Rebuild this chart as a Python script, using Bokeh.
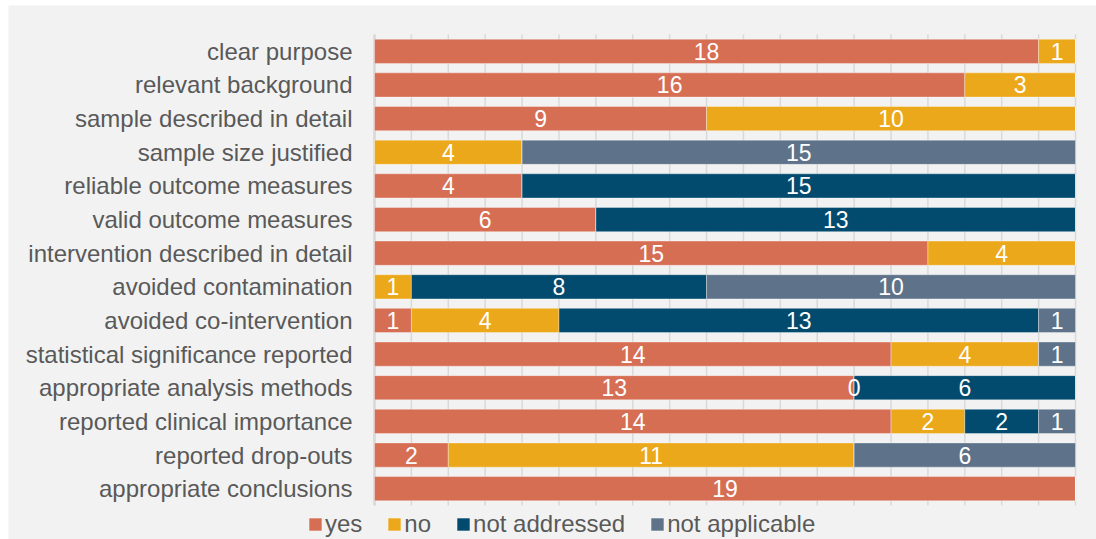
import numpy as np
from bokeh.plotting import figure
from bokeh.models import ColumnDataSource, Legend, LegendItem, Range1d
from bokeh.core.properties import value
from bokeh.embed import file_html
from bokeh.resources import INLINE

categories = [
    "clear purpose",
    "relevant background",
    "sample described in detail",
    "sample size justified",
    "reliable outcome measures",
    "valid outcome measures",
    "intervention described in detail",
    "avoided contamination",
    "avoided co-intervention",
    "statistical significance reported",
    "appropriate analysis methods",
    "reported clinical importance",
    "reported drop-outs",
    "appropriate conclusions",
]
yes = [18, 16, 9, None, 4, 6, 15, None, 1, 14, 13, 14, 2, 19]
no = [1, 3, 10, 4, None, None, 4, 1, 4, 4, 0, 2, 11, None]
not_addressed = [None, None, None, None, 15, 13, None, 8, 13, None, 6, 2, None, None]
not_applicable = [None, None, None, 15, None, None, None, 10, 1, 1, None, 1, 6, None]
grid_ticks = list(range(0, 20))

series_names = ["yes", "no", "not addressed", "not applicable"]
series_values = [yes, no, not_addressed, not_applicable]
colors = ["#D66E54", "#ECA81B", "#024B6F", "#5E738A"]

FONT = "Liberation Sans"
BG = "#F2F2F2"
GRID = "#D9D9D9"

W, H = 1088, 534
# layout in pixels (relative to the figure)
plot_left, plot_right = 366, 1067
plot_top, plot_bottom = 29, 500
n = len(categories)
ux = (plot_right - plot_left) / 19.0
uy = (plot_bottom - plot_top) / n

x_range = Range1d(-plot_left / ux, 19 + (W - plot_right) / ux)
y_range = Range1d(n - 0.5 + (H - plot_bottom) / uy, -0.5 - plot_top / uy)

p = figure(
    width=W, height=H, x_range=x_range, y_range=y_range,
    x_axis_type=None, y_axis_type=None,
    output_backend="svg", toolbar_location=None,
    min_border_left=0, min_border_right=0, min_border_top=0, min_border_bottom=0,
    margin=(5, 0, 0, 8),
)
p.background_fill_color = BG
p.border_fill_color = BG
p.outline_line_color = None
p.xgrid.grid_line_color = None
p.ygrid.grid_line_color = None

ypos = np.arange(n)

# vertical gridlines + axis line
p.segment(x0=grid_ticks, x1=grid_ticks, y0=[-0.5] * len(grid_ticks), y1=[n - 0.5] * len(grid_ticks),
          line_color=GRID, line_width=1.5)
p.segment(x0=[0], x1=[0], y0=[-0.5], y1=[n - 0.5], line_color=GRID, line_width=2.5)

left = np.zeros(n)
renderers = []
lab_x, lab_y, lab_t = [], [], []
for name, vals, col in zip(series_names, series_values, colors):
    v = np.array([0 if x is None else x for x in vals], dtype=float)
    right = left + v
    src = ColumnDataSource(dict(y=ypos, left=left.copy(), right=right.copy()))
    r = p.hbar(y="y", left="left", right="right", height=0.72, source=src,
               fill_color=col, line_color="white", line_alpha=0.35, line_width=1)
    renderers.append(r)
    for i, x in enumerate(vals):
        if x is not None:
            lab_x.append((left[i] + right[i]) / 2)
            lab_y.append(ypos[i])
            lab_t.append(str(x))
    left = right

lsrc = ColumnDataSource(dict(x=lab_x, y=lab_y, t=lab_t))
p.text(x="x", y="y", text="t", source=lsrc, text_color="white",
       text_font=value(FONT), text_font_size="23px",
       text_align="center", text_baseline="middle")

# category labels
csrc = ColumnDataSource(dict(x=[0] * n, y=ypos, t=categories))
p.text(x="x", y="y", text="t", source=csrc, x_offset=-22, text_color="#595959",
       text_font=value(FONT), text_font_size="24px",
       text_align="right", text_baseline="middle")

legend = Legend(
    items=[LegendItem(label=nm, renderers=[r]) for nm, r in zip(series_names, renderers)],
    orientation="horizontal", location=(299, 1),
    label_text_font=FONT, label_text_font_size="24px", label_text_color="#595959",
    glyph_width=16, glyph_height=16, label_standoff=2, spacing=24,
    padding=0, margin=0, background_fill_alpha=0, border_line_color=None,
    label_height=20,
)
p.add_layout(legend, "center")

open("out.html", "w").write(file_html(p, INLINE))
